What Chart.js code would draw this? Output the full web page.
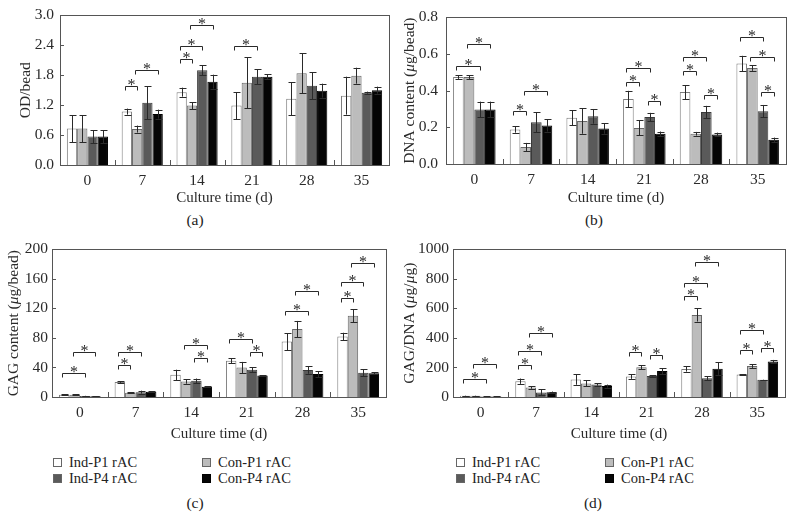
<!DOCTYPE html>
<html>
<head>
<meta charset="utf-8">
<script src="https://cdn.jsdelivr.net/npm/chart.js@4.4.1/dist/chart.umd.min.js"></script>
<style>
  html, body { margin: 0; padding: 0; background: #fff; }
  body { width: 796px; height: 518px; position: relative; overflow: hidden;
         font-family: "Liberation Serif", "DejaVu Serif", serif; color: #222; }
  canvas { position: absolute; }
  .cap { position: absolute; font-size: 15.5px; transform: translate(-50%, -50%); }
  .key { position: absolute; font-size: 14.5px; line-height: 16px; white-space: nowrap; }
  .key i { position: absolute; width: 7px; height: 7px; top: 4px; border: 1px solid #666; }
</style>
</head>
<body>
<canvas id="pa" width="398" height="205" style="left:0;top:0"></canvas>
<canvas id="pb" width="398" height="205" style="left:398px;top:0"></canvas>
<canvas id="pc" width="398" height="205" style="left:0;top:236px"></canvas>
<canvas id="pd" width="398" height="205" style="left:398px;top:236px"></canvas>
<div class="cap" style="left:195px;top:220px">(a)</div>
<div class="cap" style="left:594px;top:220px">(b)</div>
<div class="cap" style="left:195px;top:503px">(c)</div>
<div class="cap" style="left:593px;top:503px">(d)</div>
<div id="legends"></div>
<script>
const days = ['0', '7', '14', '21', '28', '35'];
const seriesNames = ['Ind-P1 rAC', 'Con-P1 rAC', 'Ind-P4 rAC', 'Con-P4 rAC'];

// (a) OD per bead
const odInd1 = [0.73, 1.07, 1.46, 1.19, 1.33, 1.39];
const odCon1 = [0.73, 0.72, 1.19, 1.65, 1.84, 1.79];
const odInd4 = [0.57, 1.25, 1.90, 1.77, 1.59, 1.45];
const odCon4 = [0.57, 1.02, 1.67, 1.77, 1.49, 1.50];
const odErrInd1 = [0.27, 0.06, 0.09, 0.27, 0.33, 0.38];
const odErrCon1 = [0.27, 0.07, 0.07, 0.51, 0.40, 0.16];
const odErrInd4 = [0.13, 0.33, 0.10, 0.15, 0.27, 0.02];
const odErrCon4 = [0.13, 0.09, 0.14, 0.05, 0.14, 0.07];
// [day index, series A, series B, bracket height]
const odStars = [[1, 0, 1, 1.58], [1, 1, 3, 1.90], [2, 0, 1, 2.12], [2, 0, 2, 2.39], [2, 1, 3, 2.81], [3, 0, 2, 2.38]];

// (b) DNA content
const dnaInd1 = [0.474, 0.188, 0.252, 0.355, 0.392, 0.548];
const dnaCon1 = [0.474, 0.093, 0.235, 0.197, 0.165, 0.523];
const dnaInd4 = [0.297, 0.227, 0.260, 0.256, 0.283, 0.288];
const dnaCon4 = [0.297, 0.210, 0.193, 0.165, 0.161, 0.132];
const dnaErrInd1 = [0.010, 0.017, 0.040, 0.044, 0.038, 0.042];
const dnaErrCon1 = [0.010, 0.022, 0.070, 0.041, 0.010, 0.015];
const dnaErrInd4 = [0.043, 0.055, 0.040, 0.023, 0.034, 0.034];
const dnaErrCon4 = [0.043, 0.033, 0.028, 0.012, 0.010, 0.012];
const dnaStars = [[0, 0, 2, 0.534], [0, 1, 3, 0.657], [1, 0, 1, 0.287], [1, 1, 3, 0.396],
  [3, 0, 1, 0.448], [3, 0, 2, 0.523], [3, 2, 3, 0.342], [4, 0, 1, 0.507], [4, 0, 2, 0.584],
  [4, 2, 3, 0.376], [5, 0, 2, 0.691], [5, 1, 3, 0.584], [5, 2, 3, 0.390]];

// (c) GAG content
const gagInd1 = [3.1, 20.3, 30, 49, 75, 82];
const gagCon1 = [3.1, 5.7, 21, 40, 92, 110];
const gagInd4 = [1.3, 6.6, 22, 37, 36.5, 33];
const gagCon4 = [1.0, 7.2, 14, 29, 31, 32];
const gagErrInd1 = [0.5, 1.2, 7, 3.5, 11.5, 5];
const gagErrCon1 = [0.5, 0.5, 3, 7.5, 11, 8.5];
const gagErrInd4 = [0.3, 2, 3, 3, 5, 4.5];
const gagErrCon4 = [0.3, 0.5, 0.5, 0.5, 4, 1.5];
const gagStars = [[0, 0, 2, 33], [0, 1, 3, 61], [1, 0, 1, 43], [1, 0, 2, 61], [2, 1, 3, 71], [2, 2, 3, 53],
  [3, 0, 2, 79], [3, 2, 3, 61], [4, 0, 2, 117], [4, 1, 3, 144], [5, 0, 1, 134], [5, 0, 2, 156], [5, 1, 3, 181]];

// (d) GAG/DNA
const ratioInd1 = [9, 107, 118, 138, 190, 152];
const ratioCon1 = [9, 65, 92, 201, 556, 210];
const ratioInd4 = [4, 31, 85, 143, 127, 116];
const ratioCon4 = [4, 33, 74, 176, 192, 241];
const ratioErrInd1 = [1, 18, 35, 15, 18, 3];
const ratioErrCon1 = [1, 9, 20, 13, 45, 13];
const ratioErrInd4 = [1, 20, 8, 5, 12, 1];
const ratioErrCon4 = [1, 4, 10, 20, 42, 10];
const ratioStars = [[0, 0, 2, 125], [0, 1, 3, 223], [1, 0, 1, 219], [1, 0, 2, 313], [1, 1, 3, 435],
  [3, 0, 1, 306], [3, 2, 3, 286], [4, 0, 1, 681], [4, 0, 2, 775], [4, 1, 3, 911],
  [5, 0, 1, 317], [5, 0, 2, 451], [5, 2, 3, 335]];

const fills = ['#ffffff', '#bcbcbc', '#5a5a5a', '#050505'];
const edges = ['#7c7c7c', '#686868', '#3a3a3a', '#000000'];
const ink = '#2a2a2a';
const serif = '"Liberation Serif", "DejaVu Serif", serif';

Chart.defaults.font.family = serif;
Chart.defaults.color = ink;

// error bars, significance brackets, frame and inward ticks
const decor = {
  id: 'decor',
  afterDatasetsDraw(chart, args, opts) {
    const { ctx, chartArea: a } = chart;
    const x = chart.scales.x, y = chart.scales.y;
    ctx.save();
    ctx.strokeStyle = ink;
    ctx.lineWidth = 1;

    chart.data.datasets.forEach((ds, i) => {
      chart.getDatasetMeta(i).data.forEach((bar, j) => {
        const e = opts.errors[i][j];
        const cx = Math.round(bar.x) + 0.5;
        const y1 = y.getPixelForValue(ds.data[j] + e);
        const y2 = y.getPixelForValue(ds.data[j] - e);
        ctx.beginPath();
        ctx.moveTo(cx, y1); ctx.lineTo(cx, y2);
        ctx.moveTo(cx - 3, Math.round(y1) + 0.5); ctx.lineTo(cx + 4, Math.round(y1) + 0.5);
        ctx.moveTo(cx - 3, Math.round(y2) + 0.5); ctx.lineTo(cx + 4, Math.round(y2) + 0.5);
        ctx.stroke();
      });
    });

    ctx.font = '16px ' + serif;
    ctx.fillStyle = ink;
    ctx.textAlign = 'center';
    ctx.textBaseline = 'alphabetic';
    opts.stars.forEach(([d, s1, s2, v]) => {
      const x1 = Math.round(chart.getDatasetMeta(s1).data[d].x) - 1.5;
      const x2 = Math.round(chart.getDatasetMeta(s2).data[d].x) + 0.5;
      const yy = Math.round(y.getPixelForValue(v)) + 0.5;
      ctx.beginPath();
      ctx.moveTo(x1, yy + 4); ctx.lineTo(x1, yy); ctx.lineTo(x2, yy); ctx.lineTo(x2, yy + 4);
      ctx.stroke();
      ctx.fillText('*', (x1 + x2) / 2, yy + 3);
    });

    ctx.strokeStyle = '#555';
    ctx.strokeRect(Math.round(a.left) + 0.5, Math.round(a.top) + 0.5,
      Math.round(a.right - a.left), Math.round(a.bottom - a.top));
    ctx.beginPath();
    y.ticks.forEach(t => {
      const py = Math.round(y.getPixelForValue(t.value)) + 0.5;
      ctx.moveTo(a.left, py); ctx.lineTo(a.left + 4, py);
    });
    for (let i = 1; i < days.length; i++) {
      const px = Math.round((x.getPixelForValue(i - 1) + x.getPixelForValue(i)) / 2) + 0.5;
      ctx.moveTo(px, a.bottom); ctx.lineTo(px, a.bottom - 5);
    }
    ctx.stroke();

    // y title, with the unit's mu in italics
    const parts = opts.title;
    ctx.textAlign = 'left';
    ctx.textBaseline = 'middle';
    const fontOf = it => (it ? 'italic ' : '') + '15.5px ' + serif;
    let total = 0;
    parts.forEach(([t, it]) => { ctx.font = fontOf(it); total += ctx.measureText(t).width; });
    ctx.translate(opts.titleX, (a.top + a.bottom) / 2);
    ctx.rotate(-Math.PI / 2);
    let cur = -total / 2;
    parts.forEach(([t, it]) => {
      ctx.font = fontOf(it);
      ctx.fillText(t, cur, 0);
      cur += ctx.measureText(t).width;
    });
    ctx.restore();
  }
};

function drawPanel(id, values, errors, stars, max, step, dec, title, box) {
  new Chart(document.getElementById(id), {
    type: 'bar',
    data: {
      labels: days,
      datasets: values.map((v, i) => ({
        label: seriesNames[i],
        data: v,
        backgroundColor: fills[i],
        borderColor: edges[i],
        borderWidth: 1,
        categoryPercentage: 0.75,
        barPercentage: 1.0,
      }))
    },
    options: {
      responsive: false,
      animation: false,
      layout: { padding: { left: 0, top: box.t, right: 398 - box.r, bottom: 0 } },
      plugins: {
        legend: { display: false },
        tooltip: { enabled: false },
        decor: { errors, stars, title, titleX: box.tx },
      },
      scales: {
        x: {
          grid: { display: false, drawTicks: false },
          border: { display: false },
          ticks: { padding: 7, font: { size: 15.5 }, color: ink },
          title: { display: true, text: 'Culture time (d)', font: { size: 15 }, color: ink,
                   padding: { top: 0, bottom: -2 } },
          afterFit: s => { s.height = 205 - box.b; },
        },
        y: {
          min: 0, max,
          grid: { display: false, drawTicks: false },
          border: { display: false },
          ticks: { stepSize: step, padding: box.pad, font: { size: 15.5 }, color: ink,
                   callback: v => Number(v).toFixed(dec) },
          afterFit: s => { s.width = box.l; },
        },
      }
    },
    plugins: [decor]
  });
}

drawPanel('pa', [odInd1, odCon1, odInd4, odCon4], [odErrInd1, odErrCon1, odErrInd4, odErrCon4],
  odStars, 3, 0.6, 1, [['OD/bead', false]], { l: 60, r: 389, t: 14, b: 165, tx: 26, pad: 6 });
drawPanel('pb', [dnaInd1, dnaCon1, dnaInd4, dnaCon4], [dnaErrInd1, dnaErrCon1, dnaErrInd4, dnaErrCon4],
  dnaStars, 0.8, 0.2, 1, [['DNA content (', false], ['\u03bc', true], ['g/bead)', false]],
  { l: 48, r: 388, t: 15, b: 164, tx: 12, pad: 8 });
drawPanel('pc', [gagInd1, gagCon1, gagInd4, gagCon4], [gagErrInd1, gagErrCon1, gagErrInd4, gagErrCon4],
  gagStars, 200, 40, 0, [['GAG content (', false], ['\u03bc', true], ['g/bead)', false]],
  { l: 52, r: 386, t: 10, b: 161, tx: 14, pad: 4 });
drawPanel('pd', [ratioInd1, ratioCon1, ratioInd4, ratioCon4], [ratioErrInd1, ratioErrCon1, ratioErrInd4, ratioErrCon4],
  ratioStars, 1000, 200, 0, [['GAG/DNA (', false], ['\u03bc', true], ['g/', false], ['\u03bc', true], ['g)', false]],
  { l: 55, r: 387, t: 11, b: 161, tx: 12, pad: 4 });

// two-by-two legends under (c) and (d)
const legendSpots = [{ x: 53, y: 454 }, { x: 456, y: 454 }];
const legendHtml = legendSpots.map(p => seriesNames.map((name, i) => {
  const left = p.x + (i % 2) * 149;
  const top = p.y + Math.floor(i / 2) * 16;
  return `<div class="key" style="left:${left}px;top:${top}px">
    <i style="left:0;background:${fills[i]};border-color:${i === 3 ? '#000' : '#666'}"></i>
    <span style="margin-left:16px">${name}</span></div>`;
}).join('')).join('');
document.getElementById('legends').innerHTML = legendHtml;
</script>
</body>
</html>
